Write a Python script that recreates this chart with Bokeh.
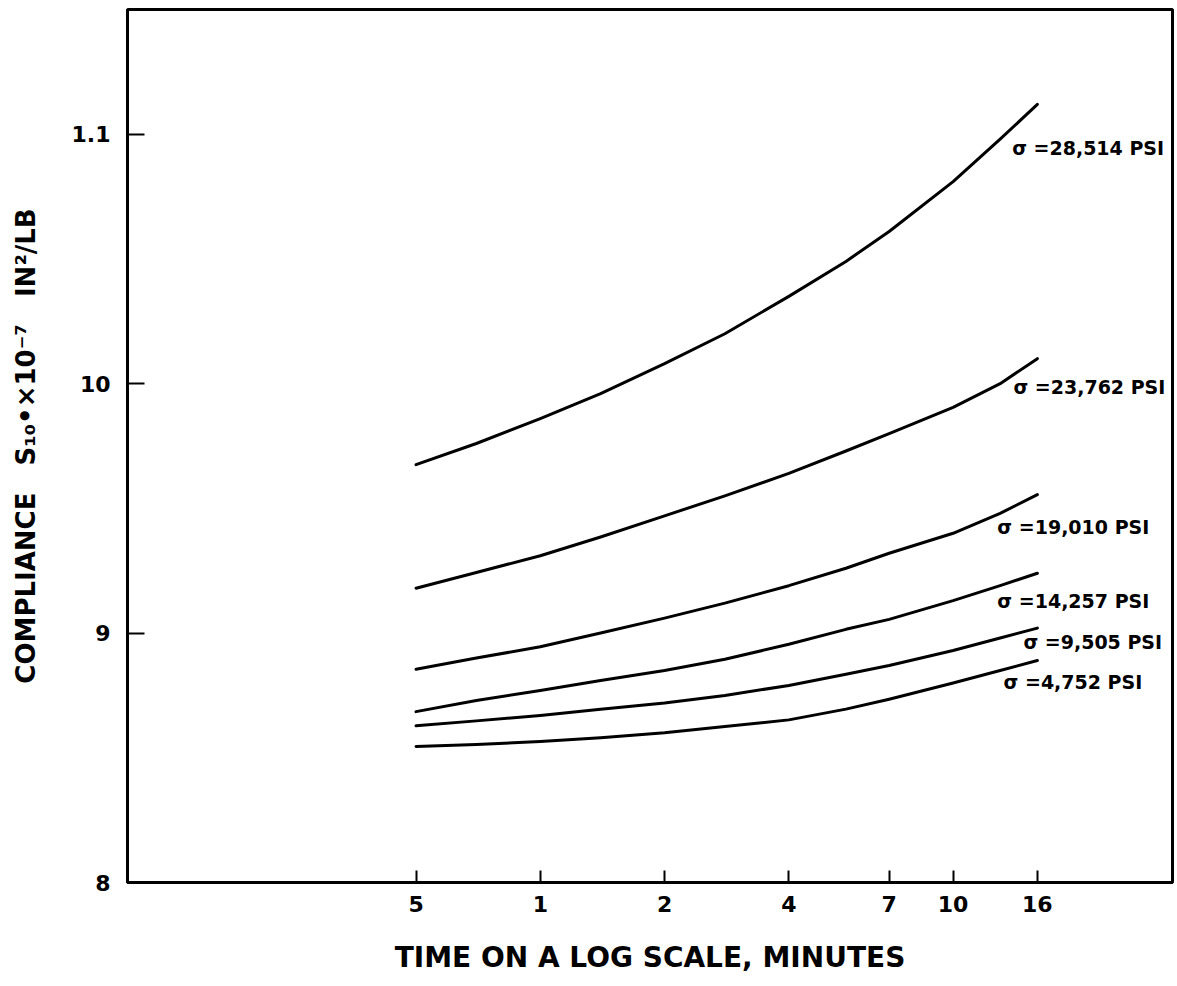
from bokeh.plotting import figure
from bokeh.models import FixedTicker
from bokeh.core.properties import value
from bokeh.embed import file_html
from bokeh.resources import INLINE

# ---------------- data ----------------
time_min = [0.5, 0.7, 1, 1.4, 2, 2.8, 4, 5.5, 7, 10, 13, 16]

s_28514 = [9.675, 9.76, 9.86, 9.96, 10.08, 10.20, 10.35, 10.49, 10.61, 10.81, 10.98, 11.12]
s_23762 = [9.18, 9.243, 9.31, 9.385, 9.47, 9.55, 9.64, 9.73, 9.80, 9.905, 10.0, 10.10]
s_19010 = [8.855, 8.90, 8.945, 9.0, 9.06, 9.12, 9.19, 9.26, 9.32, 9.40, 9.48, 9.555]
s_14257 = [8.685, 8.73, 8.77, 8.81, 8.85, 8.895, 8.955, 9.015, 9.055, 9.13, 9.19, 9.24]
s_9505 = [8.628, 8.648, 8.67, 8.695, 8.72, 8.75, 8.79, 8.835, 8.87, 8.93, 8.98, 9.02]
s_4752 = [8.545, 8.553, 8.565, 8.58, 8.60, 8.625, 8.652, 8.695, 8.735, 8.80, 8.85, 8.89]

series = [s_28514, s_23762, s_19010, s_14257, s_9505, s_4752]
stress_labels = ["σ =28,514 PSI", "σ =23,762 PSI", "σ =19,010 PSI",
                 "σ =14,257 PSI", "σ =9,505 PSI", "σ =4,752 PSI"]

x_ticks = [0.5, 1, 2, 4, 7, 10, 16]
x_tick_labels = ["5", "1", "2", "4", "7", "10", "16"]
y_ticks = [8, 9, 10, 11]
y_tick_labels = ["8", "9", "10", "1.1"]

# ---------------- layout of the curve labels ----------------
label_x = [13.9, 14.0, 12.8, 12.8, 14.8, 13.25]
label_y = [10.944, 9.988, 9.425, 9.128, 8.965, 8.804]

FONT = "DejaVu Sans"

p = figure(width=1177, height=986, x_axis_type="log",
           x_range=(0.1, 34), y_range=(8, 11.5),
           output_backend="svg", toolbar_location=None,
           min_border_left=127, min_border_right=5,
           min_border_top=9, min_border_bottom=104,
           background_fill_color="white", border_fill_color="white")

p.grid.visible = False
p.outline_line_color = "black"
p.outline_line_width = 3
p.outline_line_alpha = 1.0

for s in series:
    p.line(time_min, s, line_width=3, line_color="black", line_cap="round",
           line_join="round")

p.text(x=label_x, y=label_y, text=stress_labels,
       text_font=value(FONT), text_font_style="bold", text_font_size="19px",
       text_baseline="middle", text_align="left", text_color="black")

# x axis
xa = p.xaxis[0]
xa.ticker = FixedTicker(ticks=x_ticks)
xa.major_label_overrides = {t: l for t, l in zip(x_ticks, x_tick_labels)}
xa.major_tick_in = 12
xa.major_tick_out = 0
xa.minor_tick_line_color = None
xa.major_tick_line_width = 2
xa.major_tick_line_color = "black"
xa.axis_line_width = 3
xa.axis_line_color = "black"
xa.major_label_text_font = FONT
xa.major_label_text_font_style = "bold"
xa.major_label_text_font_size = "22px"
xa.major_label_text_color = "black"
xa.major_label_standoff = 13
xa.axis_label = "TIME ON A LOG SCALE, MINUTES"
xa.axis_label_text_font = FONT
xa.axis_label_text_font_style = "bold"
xa.axis_label_text_font_size = "28px"
xa.axis_label_text_color = "black"
xa.axis_label_standoff = 26

# y axis
ya = p.yaxis[0]
ya.ticker = FixedTicker(ticks=y_ticks)
ya.major_label_overrides = {t: l for t, l in zip(y_ticks, y_tick_labels)}
ya.major_tick_in = 17
ya.major_tick_out = 0
ya.minor_tick_line_color = None
ya.major_tick_line_width = 2
ya.major_tick_line_color = "black"
ya.axis_line_width = 3
ya.axis_line_color = "black"
ya.major_label_text_font = FONT
ya.major_label_text_font_style = "bold"
ya.major_label_text_font_size = "22px"
ya.major_label_text_color = "black"
ya.major_label_standoff = 17
ya.axis_label = "COMPLIANCE\u00a0\u00a0\u00a0S\u2081\u2080\u2022\u00d710\u207b\u2077\u00a0\u00a0\u00a0IN\u00b2/LB"
ya.axis_label_text_font = FONT
ya.axis_label_text_font_style = "bold"
ya.axis_label_text_font_size = "26px"
ya.axis_label_text_color = "black"
ya.axis_label_standoff = 28

open("out.html", "w").write(file_html(p, INLINE))
